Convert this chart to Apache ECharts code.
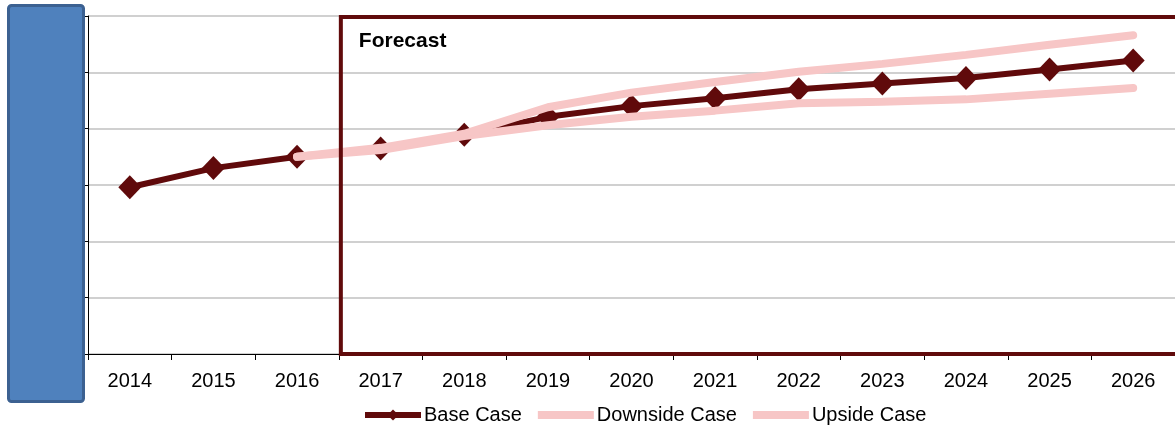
<!DOCTYPE html>
<html>
<head>
<meta charset="utf-8">
<script src="https://cdn.jsdelivr.net/npm/echarts@6/dist/echarts.min.js"></script>
<style>
html,body{margin:0;padding:0;background:#fff;}
#chart{width:1175px;height:429px;}
</style>
</head>
<body>
<div id="chart"></div>
<script>
const years = ['2014','2015','2016','2017','2018','2019','2020','2021','2022','2023','2024','2025','2026'];
const baseCase = [2.96, 3.30, 3.50, 3.65, 3.89, 4.21, 4.40, 4.54, 4.70, 4.80, 4.90, 5.05, 5.21];
const downsideCase = [null, null, 3.50, 3.62, 3.87, 4.06, 4.21, 4.32, 4.45, 4.48, 4.52, 4.62, 4.72];
const upsideCase = [null, null, 3.50, 3.66, 3.91, 4.38, 4.64, 4.83, 5.01, 5.15, 5.31, 5.49, 5.66];
const lastActual = '2016';
const firstForecast = '2017';
const forecastLabel = 'Forecast';
const yMin = 0, yMax = 6;

const dark = '#600a0b';
const pink = '#f7c6c6';
const font = 'Liberation Sans, Arial, sans-serif';

const chart = echarts.init(document.getElementById('chart'), null, {renderer: 'canvas'});
chart.setOption({
  animation: false,
  textStyle: {fontFamily: font},
  grid: {left: 88, right: -4, top: 16, bottom: 75, containLabel: false},
  legend: {
    left: 362, top: 405, padding: 0, itemGap: 12, itemWidth: 56, itemHeight: 14,
    textStyle: {fontSize: 20, color: '#000', fontFamily: font, padding: [0, 0, 0, -2]},
    data: [
      {name: 'Base Case', lineStyle: {width: 6, color: dark, cap: 'butt'}},
      {name: 'Downside Case', lineStyle: {width: 8, color: pink, cap: 'butt'}, itemStyle: {opacity: 0}},
      {name: 'Upside Case', lineStyle: {width: 8, color: pink, cap: 'butt'}, itemStyle: {opacity: 0}}
    ]
  },
  xAxis: {
    type: 'category', data: years, boundaryGap: true,
    axisLine: {lineStyle: {color: '#000', width: 1}},
    axisTick: {show: true, length: 6, lineStyle: {color: '#000'}},
    axisLabel: {fontSize: 20, color: '#000', margin: 17, fontFamily: font},
    splitLine: {show: false}
  },
  yAxis: {
    type: 'value', min: yMin, max: yMax, interval: 1,
    axisLine: {show: true, lineStyle: {color: '#000', width: 1}},
    axisTick: {show: true, length: 5, lineStyle: {color: '#000'}},
    axisLabel: {show: false},
    splitLine: {show: true, lineStyle: {color: '#c0c0c0', width: 1.5}}
  },
  series: [
    {
      name: 'Base Case', type: 'line', data: baseCase,
      symbol: 'diamond', symbolSize: [23, 24],
      lineStyle: {color: dark, width: 6},
      itemStyle: {color: dark},
      z: 2
    },
    {
      name: 'Downside Case', type: 'line', data: downsideCase,
      symbol: 'none', lineStyle: {color: pink, width: 8, cap: 'round'},
      itemStyle: {color: pink}, z: 3
    },
    {
      name: 'Upside Case', type: 'line', data: upsideCase,
      symbol: 'none', lineStyle: {color: pink, width: 8, cap: 'round'},
      itemStyle: {color: pink}, z: 3
    }
  ]
});

// Forecast box: from the band boundary between last actual and first forecast year, to past the right edge
const pA = chart.convertToPixel({gridIndex: 0}, [lastActual, yMax]);
const pF = chart.convertToPixel({gridIndex: 0}, [firstForecast, yMin]);
const boxLeft = (pA[0] + pF[0]) / 2 + 2;
const boxTop = pA[1] + 1;
const boxBottom = pF[1];
chart.setOption({
  graphic: [
    {
      type: 'rect', z: 50, silent: true,
      shape: {x: boxLeft, y: boxTop, width: chart.getWidth() + 20 - boxLeft, height: boxBottom - boxTop},
      style: {fill: 'none', stroke: dark, lineWidth: 4}
    },
    {
      type: 'text', z: 51, silent: true,
      x: boxLeft + 18, y: boxTop + 14,
      style: {text: forecastLabel, fill: '#000', font: 'bold 21px ' + font, textVerticalAlign: 'top'}
    },
    {
      type: 'rect', left: 7, top: 4, z: 100,
      shape: {width: 75, height: 396, r: 3},
      style: {fill: '#4f81bd', stroke: '#3c6191', lineWidth: 3}
    }
  ]
});
</script>
</body>
</html>
